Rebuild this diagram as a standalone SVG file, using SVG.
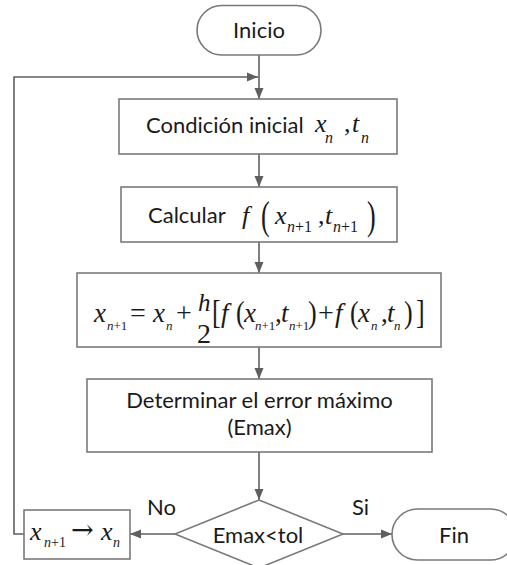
<svg xmlns="http://www.w3.org/2000/svg" width="507" height="565" viewBox="0 0 507 565">
<defs>
<marker id="ah" markerUnits="userSpaceOnUse" markerWidth="12" markerHeight="10" refX="11" refY="5" orient="auto">
<path d="M0,0.5 L11,5 L0,9.5 Z" fill="#5f5f5f"/>
</marker>
<style>
.box{fill:#fff;stroke:#7a7a7a;stroke-width:1.6}
.con{fill:none;stroke:#5f5f5f;stroke-width:1.6}
.sans{font-family:Lato,"Liberation Sans",sans-serif;font-size:22px;fill:#1a1a1a}
.m{font-family:"Liberation Serif","Times New Roman",serif;font-style:italic;font-size:26px;fill:#1a1a1a}
.mu{font-family:"Liberation Serif","Times New Roman",serif;font-style:normal;font-size:26px;fill:#1a1a1a}
.u{font-style:normal}
.s{font-size:16px}
.s3{font-size:13px}
.s5{font-size:14px}
</style>
</defs>
<rect width="507" height="565" fill="#fff"/>
<g id="connectors">
<line class="con" x1="259" y1="55" x2="259" y2="99" marker-end="url(#ah)"/>
<polyline class="con" points="24,534 14,534 14,77 258,77" marker-end="url(#ah)"/>
<line class="con" x1="259" y1="154" x2="259" y2="187" marker-end="url(#ah)"/>
<line class="con" x1="259" y1="242" x2="259" y2="273" marker-end="url(#ah)"/>
<line class="con" x1="259" y1="347" x2="259" y2="379" marker-end="url(#ah)"/>
<line class="con" x1="259" y1="452" x2="259" y2="500" marker-end="url(#ah)"/>
<line class="con" x1="175" y1="534" x2="130" y2="534" marker-end="url(#ah)"/>
<line class="con" x1="343" y1="534" x2="392" y2="534" marker-end="url(#ah)"/>
<text class="sans" x="147" y="515">No</text>
<text class="sans" x="352" y="515">Si</text>
</g>
<g id="inicio">
<rect class="box" x="197" y="5.5" width="124" height="49.5" rx="24.75"/>
<text class="sans" x="259" y="38" text-anchor="middle">Inicio</text>
</g>
<g id="condicion">
<rect class="box" x="119" y="99" width="278" height="55"/>
<text class="sans" x="146" y="133">Condición inicial</text>
<text class="m"><tspan x="315" y="132">x</tspan><tspan class="s" x="325" y="143">n</tspan><tspan class="u" x="344" y="132">,</tspan><tspan x="352" y="132">t</tspan><tspan class="s" x="361" y="143">n</tspan></text>
</g>
<g id="calcular">
<rect class="box" x="121" y="187" width="276" height="55"/>
<text class="sans" x="148" y="223">Calcular</text>
<text class="m"><tspan x="242" y="224">f</tspan><tspan x="275" y="224">x</tspan><tspan class="s" x="287" y="232">n<tspan class="u">+1</tspan></tspan><tspan class="u" x="318" y="224">,</tspan><tspan x="325" y="224">t</tspan><tspan class="s" x="333" y="232">n<tspan class="u">+1</tspan></tspan></text>
<text class="mu" transform="translate(261,229) scale(1,1.55)">(</text>
<text class="mu" transform="translate(367,229) scale(1,1.55)">)</text>
</g>
<g id="formula">
<rect class="box" x="77" y="273" width="364" height="74"/>
<text class="m" style="font-size:27px"><tspan x="94" y="322">x</tspan><tspan class="s3" x="107" y="330">n<tspan class="u">+1</tspan></tspan><tspan class="u" style="font-size:28px" x="130" y="322">=</tspan><tspan x="153" y="322">x</tspan><tspan class="s3" x="166" y="330">n</tspan><tspan class="u" style="font-size:28px" x="176" y="322">+</tspan><tspan x="221" y="322">f</tspan><tspan x="244" y="322">x</tspan><tspan class="s3" x="255" y="330">n<tspan class="u">+1</tspan></tspan><tspan class="u" x="275" y="322">,</tspan><tspan x="281" y="322">t</tspan><tspan class="s3" x="289" y="330">n<tspan class="u">+1</tspan></tspan><tspan class="u" style="font-size:28px" x="318" y="322">+</tspan><tspan x="335" y="322">f</tspan><tspan x="358" y="322">x</tspan><tspan class="s3" x="371" y="330">n</tspan><tspan class="u" x="381" y="322">,</tspan><tspan x="387" y="322">t</tspan><tspan class="s3" x="394" y="330">n</tspan></text>
<text class="m" style="font-size:25px" x="198" y="311">h</text>
<text class="mu" style="font-size:28px" x="197" y="343">2</text>
<text class="mu" transform="translate(212,323) scale(1,1.3)">[</text>
<text class="mu" transform="translate(236,323) scale(1,1.2)">(</text>
<text class="mu" transform="translate(308,323) scale(1,1.2)">)</text>
<text class="mu" transform="translate(350,323) scale(1,1.2)">(</text>
<text class="mu" transform="translate(404,323) scale(1,1.2)">)</text>
<text class="mu" transform="translate(416,323) scale(1,1.3)">]</text>
</g>
<g id="determinar">
<rect class="box" x="87" y="379" width="345" height="73"/>
<text class="sans" x="259.5" y="408" text-anchor="middle">Determinar el error máximo</text>
<text class="sans" x="259.5" y="435" text-anchor="middle">(Emax)</text>
</g>
<g id="decision">
<polygon class="box" points="259,500 343,534 259,568 175,534"/>
<text class="sans" x="258" y="543" text-anchor="middle">Emax&lt;tol</text>
</g>
<g id="actualizar">
<rect class="box" x="24" y="510" width="106" height="49"/>
<text class="m"><tspan x="30" y="540">x</tspan><tspan class="s5" x="44" y="547">n<tspan class="u">+1</tspan></tspan><tspan style="font-family:'DejaVu Serif',serif;font-style:normal;font-size:27px" x="71" y="539">→</tspan><tspan x="101" y="540">x</tspan><tspan class="s5" x="113" y="547">n</tspan></text>
</g>
<g id="fin">
<rect class="box" x="392" y="509" width="124" height="51" rx="25.5"/>
<text class="sans" x="454" y="543" text-anchor="middle">Fin</text>
</g>
</svg>
